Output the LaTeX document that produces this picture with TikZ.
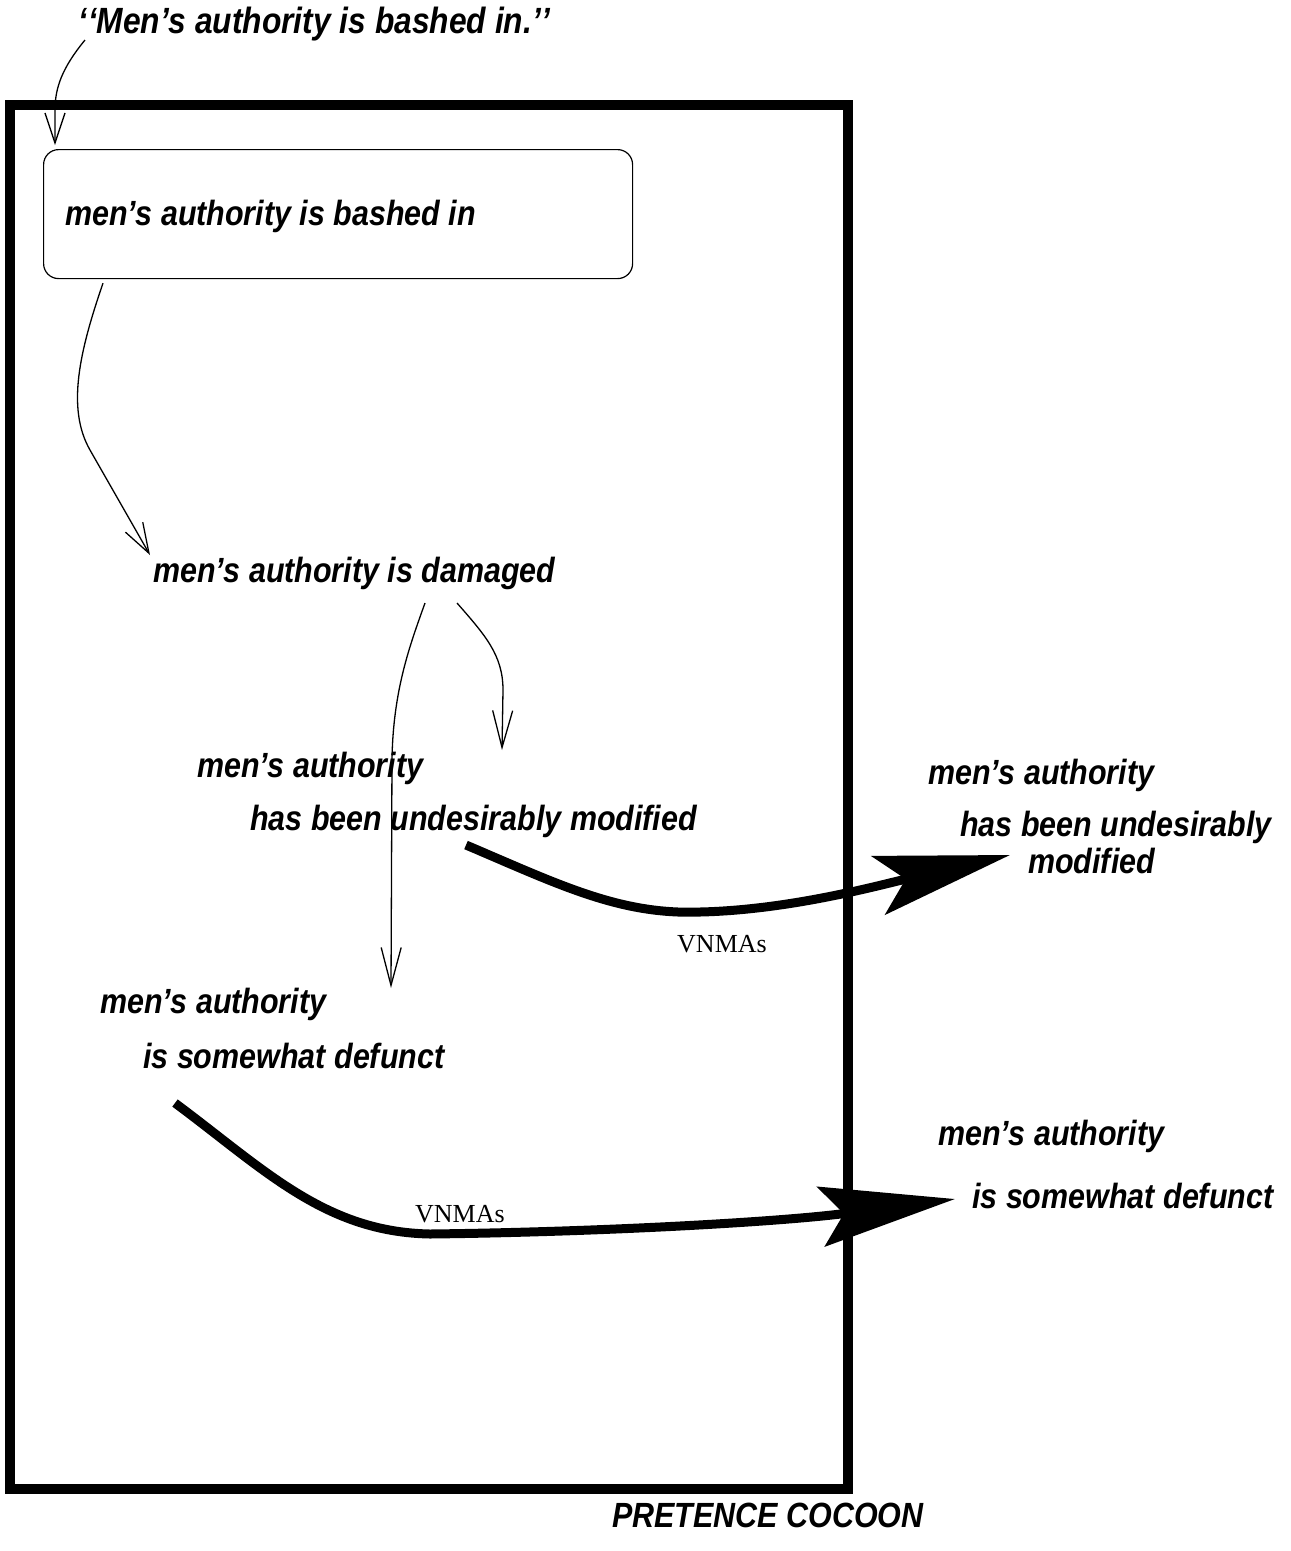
\documentclass[tikz,border=0pt]{standalone}
\usepackage{fontspec}
\newfontfamily\hv{Liberation Sans}[FakeStretch=0.87]
\newfontfamily\tm{Liberation Serif}
\usetikzlibrary{arrows.meta}
\begin{document}
\begin{tikzpicture}[x=1pt,y=-1pt,
  lbl/.style={anchor=base west, inner sep=0pt, font=\hv\bfseries\itshape\fontsize{35}{40}\selectfont},
  vlbl/.style={anchor=base west, inner sep=0pt, font=\tm\fontsize{26}{30}\selectfont},
  frame/.style={line width=10pt},
  thinarrow/.style={line width=1.3pt, -{Straight Barb[length=#1,width=20pt]}},
  thickarrow/.style={line width=9pt, -{Stealth[length=135pt,width=60pt,inset=#1]}}
]
\useasboundingbox (0,0) rectangle (1291,1551);
% cocoon frame
\draw[frame] (10,105) rectangle (848,1489);
\node[lbl] (cocoon) at (612,1527) {PRETENCE COCOON};
% title
\node[lbl, font=\hv\bfseries\itshape\fontsize{36.5}{40}\selectfont] (t0) at (78,33) {‘\kern1pt‘Men’s authority is bashed in.’\kern1pt’};
% rounded box
\node[draw, line width=1.2pt, rounded corners=15pt, anchor=north west,
      minimum width=589pt, minimum height=129pt] (box) at (43,149) {};
\node[lbl] (b1) at (65,225) {men’s authority is bashed in};
% texts
\node[lbl] (d1) at (153,582) {men’s authority is damaged};
\node[lbl] (m1) at (197,777) {men’s authority};
\node[lbl] (m2) at (250,830) {has been undesirably modified};
\node[lbl] (r1) at (928,784) {men’s authority};
\node[lbl] (r2) at (960,836) {has been undesirably};
\node[lbl] (r3) at (1028,873) {modified};
\node[lbl] (s1) at (100,1013) {men’s authority};
\node[lbl] (s2) at (143,1068) {is somewhat defunct};
\node[lbl] (r4) at (938,1145) {men’s authority};
\node[lbl] (r5) at (972,1208) {is somewhat defunct};
\node[vlbl] (v1) at (677,952) {VNMAs};
\node[vlbl] (v2) at (415,1222) {VNMAs};
% thin connectors
\draw[thinarrow=30pt] ([shift={(7,7)}]t0.base west) .. controls (62,68) and (55,88) .. (55,110) -- ([shift={(12,-4)}]box.north west);
\draw[thinarrow=30pt] ([shift={(60,4)}]box.south west) .. controls (80,350) and (66,408) .. (90,450) -- ([shift={(-3,-27)}]d1.base west);
\draw[thinarrow=38pt] ([shift={(272,21)}]d1.base west) .. controls (410,645) and (393,690) .. (392,760) -- ([shift={(291,-25)}]s1.base west);
\draw[thinarrow=37pt] ([shift={(304,21)}]d1.base west) .. controls (485,635) and (503,655) .. (503,690) -- ([shift={(305,-27)}]m1.base west);
% thick connectors
\draw[thickarrow=28pt] ([shift={(216,15)}]m2.base west) .. controls (560,885) and (620,915) .. (700,912) .. controls (790,910) and (880,885) .. ([shift={(50,19)}]r2.base west);
\draw[thickarrow=23pt] ([shift={(32,35)}]s2.base west) .. controls (265,1170) and (325,1232) .. (430,1234) .. controls (600,1232) and (780,1222) .. ([shift={(-17,-9)}]r5.base west);
\end{tikzpicture}
\end{document}
